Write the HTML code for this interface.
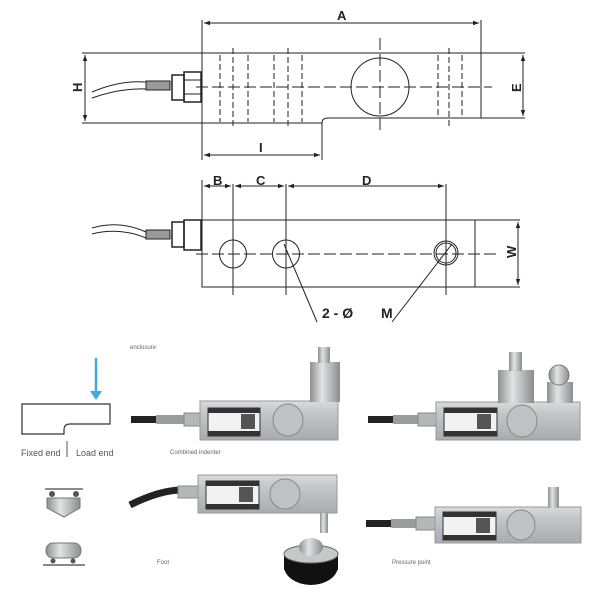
<!DOCTYPE html>
<html><head><meta charset="utf-8"><style>
body{margin:0;background:#fff;}
svg{display:block;font-family:"Liberation Sans",sans-serif;}
</style></head><body>
<svg width="600" height="599" viewBox="0 0 600 599" xmlns="http://www.w3.org/2000/svg">
<defs>
<linearGradient id="steel" x1="0" y1="0" x2="0" y2="1">
<stop offset="0" stop-color="#d9dadc"/><stop offset="0.3" stop-color="#c4c6c9"/><stop offset="1" stop-color="#a9abae"/></linearGradient>
<linearGradient id="cyl" x1="0" y1="0" x2="1" y2="0">
<stop offset="0" stop-color="#8d8f92"/><stop offset="0.4" stop-color="#e2e3e4"/><stop offset="1" stop-color="#8a8c8f"/></linearGradient>
<marker id="ar" markerWidth="6" markerHeight="6" refX="6" refY="3" orient="auto"><path d="M0,0.8 L6,3 L0,5.2" fill="#222"/></marker>
<marker id="al" markerWidth="6" markerHeight="6" refX="0" refY="3" orient="auto"><path d="M6,0.8 L0,3 L6,5.2" fill="#222"/></marker>
</defs>
<g stroke="#222" stroke-width="1" fill="none">
<!-- TOP VIEW -->
<line x1="202" y1="20" x2="202" y2="160"/>
<line x1="481" y1="20" x2="481" y2="118"/>
<line x1="204" y1="23" x2="479" y2="23" marker-start="url(#al)" marker-end="url(#ar)"/>
<line x1="82" y1="53" x2="525" y2="53"/>
<line x1="82" y1="123" x2="322" y2="123"/>
<path d="M322,123 L322,160 M322,123 Q322,118 328,118 L525,118"/>
<line x1="85" y1="55" x2="85" y2="121" marker-start="url(#al)" marker-end="url(#ar)"/>
<line x1="523" y1="55" x2="523" y2="116" marker-start="url(#al)" marker-end="url(#ar)"/>
<line x1="204" y1="155" x2="320" y2="155" marker-start="url(#al)" marker-end="url(#ar)"/>
<line x1="196" y1="87" x2="492" y2="87" stroke-dasharray="12,4"/>
<circle cx="380" cy="87" r="29"/>
<line x1="380" y1="38" x2="380" y2="133" stroke-dasharray="12,4"/>
<g stroke-dasharray="6,3">
<line x1="220" y1="55" x2="220" y2="122"/><line x1="233" y1="48" x2="233" y2="127"/><line x1="248" y1="55" x2="248" y2="122"/>
<line x1="274" y1="55" x2="274" y2="122"/><line x1="288" y1="48" x2="288" y2="127"/><line x1="302" y1="55" x2="302" y2="122"/>
<line x1="438" y1="55" x2="438" y2="117"/><line x1="449" y1="48" x2="449" y2="127"/><line x1="462" y1="55" x2="462" y2="117"/>
</g>
<path d="M92,92 Q120,80 146,82 M92,98 Q120,88 146,89"/>
<rect x="146" y="81" width="24" height="9" fill="#999"/>
<rect x="172" y="75" width="12" height="25" stroke-width="1.5"/>
<rect x="184" y="72" width="17" height="30" stroke-width="1.5"/>
<line x1="184" y1="80" x2="201" y2="80"/><line x1="184" y1="94" x2="201" y2="94"/>
<!-- BOTTOM VIEW -->
<line x1="202" y1="180" x2="202" y2="287"/>
<line x1="204" y1="186" x2="231" y2="186" marker-start="url(#al)" marker-end="url(#ar)"/>
<line x1="235" y1="186" x2="284" y2="186" marker-start="url(#al)" marker-end="url(#ar)"/>
<line x1="288" y1="186" x2="444" y2="186" marker-start="url(#al)" marker-end="url(#ar)"/>
<rect x="202" y="220" width="273" height="67"/>
<line x1="475" y1="220" x2="520" y2="220"/><line x1="475" y1="287" x2="520" y2="287"/>
<line x1="518" y1="222" x2="518" y2="285" marker-start="url(#al)" marker-end="url(#ar)"/>
<line x1="196" y1="254" x2="498" y2="254" stroke-dasharray="12,4"/>
<ellipse cx="233" cy="254" rx="13.5" ry="14"/>
<ellipse cx="286" cy="254" rx="13.5" ry="14"/>
<circle cx="446" cy="253" r="12"/><circle cx="446" cy="253" r="10"/>
<line x1="233" y1="184" x2="233" y2="295"/>
<line x1="286" y1="184" x2="286" y2="295"/>
<line x1="446" y1="184" x2="446" y2="295"/>
<line x1="284" y1="244" x2="317" y2="322"/>
<line x1="452" y1="244" x2="392" y2="322"/>
<path d="M92,228 Q120,220 146,232 M92,234 Q120,227 146,238"/>
<rect x="146" y="230" width="24" height="9" fill="#999"/>
<rect x="172" y="222" width="12" height="25" stroke-width="1.5"/>
<rect x="184" y="220" width="17" height="30" stroke-width="1.5"/>
</g>
<g font-weight="bold" font-size="13" fill="#222">
<text x="337" y="20">A</text>
<text x="259" y="152">I</text>
<text x="213" y="185">B</text>
<text x="256" y="185">C</text>
<text x="362" y="185">D</text>
<text x="322" y="318" font-size="14">2 - Ø</text>
<text x="381" y="318" font-size="14">M</text>
<text transform="translate(82,92) rotate(-90)">H</text>
<text transform="translate(521,92) rotate(-90)">E</text>
<text transform="translate(516,258) rotate(-90)">W</text>
</g>
<!-- LEFT SCHEMATIC -->
<line x1="96" y1="358" x2="96" y2="393" stroke="#3fa9e0" stroke-width="2.5"/>
<path d="M90,391 L96,400 L102,391Z" fill="#3fa9e0"/>
<path d="M22,404 L110,404 L110,424 L70,424 Q64,424 64,430 L64,434 L22,434Z" fill="none" stroke="#333" stroke-width="1.2"/>
<line x1="67" y1="441" x2="67" y2="457" stroke="#555"/>
<g font-size="9" fill="#555"><text x="21" y="456">Fixed end</text><text x="76" y="456">Load end</text></g>
<g font-size="6" fill="#666"><text x="130" y="349">enclosure</text><text x="170" y="454">Combined indenter</text><text x="157" y="564">Foot</text><text x="392" y="564">Pressure point</text></g>
<!-- hopper -->
<line x1="45" y1="489" x2="83" y2="489" stroke="#666" stroke-width="1.5"/>
<circle cx="52" cy="494" r="3" fill="#555"/><circle cx="76" cy="494" r="3" fill="#555"/>
<path d="M47,498 L80,498 L80,508 L64,517 L47,508Z" fill="url(#cyl)" stroke="#777"/>
<rect x="46" y="543" width="35" height="15" rx="7" fill="url(#cyl)" stroke="#777"/>
<circle cx="53" cy="561" r="2.5" fill="#555"/><circle cx="73" cy="561" r="2.5" fill="#555"/>
<line x1="43" y1="565" x2="85" y2="565" stroke="#888" stroke-width="2"/>
<!-- PHOTO 1 -->
<rect x="131" y="416" width="25" height="7" fill="#222"/>
<rect x="156" y="415" width="28" height="9" fill="#9a9c9e"/>
<rect x="184" y="413" width="16" height="13" fill="#b5b7b9" stroke="#888"/>
<rect x="200" y="401" width="138" height="39" fill="url(#steel)" stroke="#999"/>
<rect x="208" y="408" width="52" height="28" fill="#f2f2f2" stroke="#333"/>
<rect x="208" y="408" width="52" height="5" fill="#333"/><rect x="208" y="431" width="52" height="5" fill="#333"/>
<rect x="241" y="414" width="14" height="15" fill="#555"/>
<ellipse cx="288" cy="420" rx="15" ry="16" fill="#bfc1c3" stroke="#888"/>
<rect x="310" y="362" width="30" height="40" fill="url(#cyl)"/>
<rect x="318" y="347" width="12" height="16" fill="url(#cyl)"/>
<!-- PHOTO 2 -->
<rect x="368" y="416" width="25" height="7" fill="#222"/>
<rect x="393" y="415" width="25" height="9" fill="#9a9c9e"/>
<rect x="418" y="413" width="18" height="13" fill="#b5b7b9" stroke="#888"/>
<rect x="436" y="402" width="144" height="38" fill="url(#steel)" stroke="#999"/>
<rect x="444" y="408" width="53" height="28" fill="#f2f2f2" stroke="#333"/>
<rect x="444" y="408" width="53" height="5" fill="#333"/><rect x="444" y="431" width="53" height="5" fill="#333"/>
<rect x="477" y="414" width="14" height="15" fill="#555"/>
<ellipse cx="522" cy="421" rx="15" ry="16" fill="#bfc1c3" stroke="#888"/>
<rect x="498" y="370" width="36" height="33" fill="url(#cyl)"/>
<rect x="509" y="352" width="13" height="19" fill="url(#cyl)"/>
<rect x="547" y="382" width="26" height="21" fill="url(#cyl)"/>
<circle cx="559" cy="375" r="10" fill="url(#cyl)" stroke="#777"/>
<!-- PHOTO 3 -->
<path d="M130,505 Q160,490 182,490" stroke="#222" stroke-width="7" fill="none"/>
<rect x="178" y="486" width="20" height="12" fill="#b5b7b9" stroke="#888"/>
<rect x="198" y="475" width="139" height="38" fill="url(#steel)" stroke="#999"/>
<rect x="206" y="481" width="53" height="28" fill="#f2f2f2" stroke="#333"/>
<rect x="206" y="481" width="53" height="5" fill="#333"/><rect x="206" y="504" width="53" height="5" fill="#333"/>
<rect x="239" y="487" width="14" height="15" fill="#555"/>
<ellipse cx="285" cy="494" rx="15" ry="15" fill="#bfc1c3" stroke="#888"/>
<rect x="320" y="513" width="8" height="20" fill="url(#cyl)"/>
<ellipse cx="311" cy="566" rx="27" ry="19" fill="#111"/>
<rect x="284" y="556" width="54" height="14" fill="#111"/>
<ellipse cx="311" cy="554" rx="27" ry="9" fill="#c5c7c9" stroke="#666"/>
<ellipse cx="311" cy="547" rx="12" ry="9" fill="url(#cyl)"/>
<!-- PHOTO 4 -->
<rect x="366" y="520" width="25" height="7" fill="#222"/>
<rect x="391" y="519" width="25" height="9" fill="#9a9c9e"/>
<rect x="416" y="517" width="19" height="13" fill="#b5b7b9" stroke="#888"/>
<rect x="435" y="507" width="146" height="36" fill="url(#steel)" stroke="#999"/>
<rect x="443" y="512" width="53" height="28" fill="#f2f2f2" stroke="#333"/>
<rect x="443" y="512" width="53" height="5" fill="#333"/><rect x="443" y="535" width="53" height="5" fill="#333"/>
<rect x="476" y="518" width="14" height="15" fill="#555"/>
<ellipse cx="521" cy="525" rx="14" ry="15" fill="#bfc1c3" stroke="#888"/>
<rect x="548" y="487" width="11" height="21" fill="url(#cyl)"/>
</svg>
</body></html>
